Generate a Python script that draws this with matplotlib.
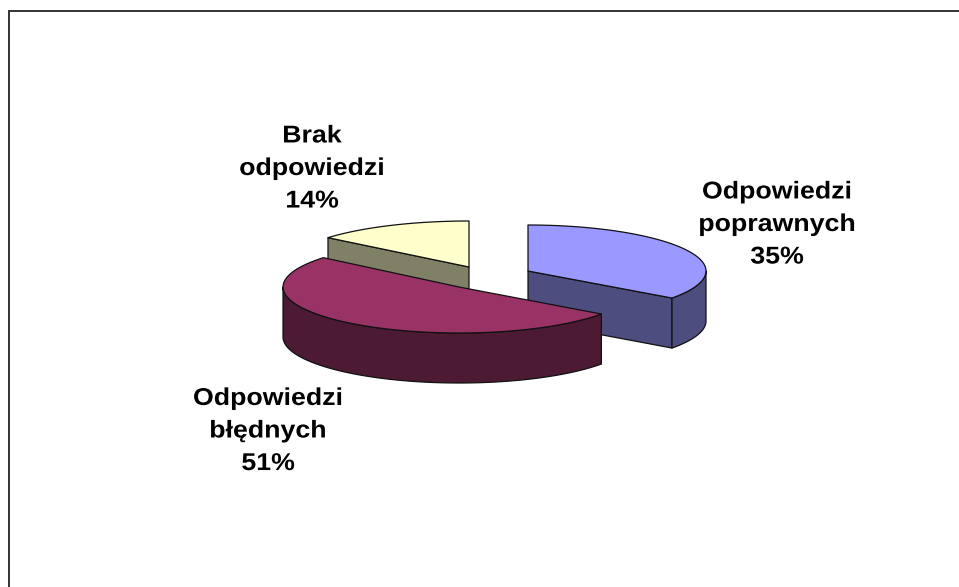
"""Exploded 3-D style pie of answer shares, drawn in pixel coordinates."""
import numpy as np
import matplotlib
matplotlib.use("Agg")
import matplotlib.pyplot as plt
from matplotlib.patches import Polygon
from matplotlib.patheffects import AbstractPathEffect
from matplotlib.transforms import Affine2D

plt.rcParams["font.family"] = ["Liberation Sans", "DejaVu Sans"]

labels = ["Odpowiedzi\npoprawnych", "Odpowiedzi\nbłędnych", "Brak\nodpowiedzi"]
shares = [35, 51, 14]

top_colors = ["#9999FF", "#993366", "#FFFFCC"]
side_colors = ["#4D4D80", "#4D1A33", "#808066"]

# apex of each slice on the page, horizontal radius, and label centre
centers = [(528, 271), (459, 287), (469, 267)]
radii_x = [178, 176, 183]
label_pos = [(777, 224.5), (268, 431), (312, 168.5)]
RY = 46
DEPTH = 50
LW = 0.9


class WideText(AbstractPathEffect):
    """Widen each line about its own centre (the original text is loosely spaced)."""

    def __init__(self, sx):
        super().__init__()
        self.sx = sx

    def draw_path(self, renderer, gc, tpath, affine, rgbFace=None):
        ext = tpath.get_extents()
        mid = (ext.x0 + ext.x1) / 2
        stretch = Affine2D().translate(-mid, 0).scale(self.sx, 1).translate(mid, 0)
        renderer.draw_path(gc, tpath, stretch + affine, rgbFace)


def rim(cx, cy, rx, t0, t1):
    # t in degrees clockwise from the top of the ellipse
    t = np.radians(np.linspace(t0, t1, 80))
    return np.column_stack([cx + rx * np.sin(t), cy - RY * np.cos(t)])


def face(ax, pts, color, z):
    ax.add_patch(Polygon(pts, closed=True, facecolor=color, edgecolor="#111111",
                         linewidth=LW, joinstyle="round", zorder=z))


fig = plt.figure(figsize=(9.59, 5.87), dpi=100)
ax = fig.add_axes([0, 0, 1, 1])
ax.set_xlim(0, 959)
ax.set_ylim(587, 0)
ax.axis("off")

# chart frame: only the top and left edges are in the picture
ax.plot([8.5, 8.5, 959], [587, 10.5, 10.5], color="#333333", lw=1.4,
        solid_joinstyle="miter", zorder=1)

edges = np.cumsum([0] + shares) * 3.6
# back to front: blue, yellow, burgundy
for i in [0, 2, 1]:
    cx, cy = centers[i]
    rx = radii_x[i]
    t0, t1 = edges[i], edges[i + 1]
    arc = rim(cx, cy, rx, t0, t1)
    z = 2 + [0, 2, 1].index(i) * 3
    down = np.array([0, DEPTH])

    # cut face that looks at the viewer
    if i == 0:
        end = arc[-1]
        face(ax, [(cx, cy), end, end + down, (cx, cy + DEPTH)], side_colors[i], z)
    if i == 2:
        start = arc[0]
        face(ax, [(cx, cy), start, start + down, (cx, cy + DEPTH)], side_colors[i], z)

    # outer wall, only the part below the ellipse's widest line
    lo, hi = max(t0, 90), min(t1, 270)
    if lo < hi:
        wall = rim(cx, cy, rx, lo, hi)
        face(ax, np.vstack([wall, wall[::-1] + down]), side_colors[i], z)

    face(ax, np.vstack([[(cx, cy)], arc]), top_colors[i], z + 1)

for lab, share, (x, y) in zip(labels, shares, label_pos):
    ax.text(x, y, f"{lab}\n{share}%", ha="center", va="center", ma="center",
            fontsize=17.5, fontweight="bold", color="black", linespacing=1.53, zorder=20,
            path_effects=[WideText(1.1)])

fig.savefig("out.png", dpi=100)
